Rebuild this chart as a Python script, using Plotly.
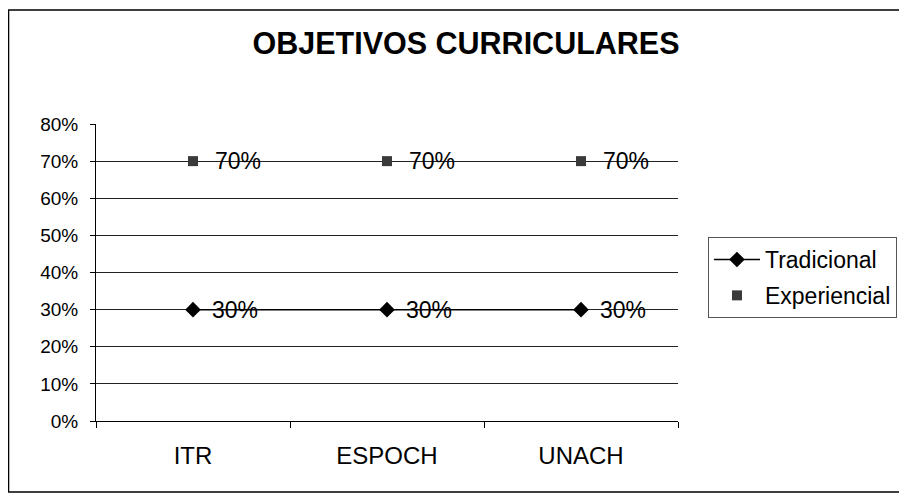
import plotly.graph_objects as go

categories = ["ITR", "ESPOCH", "UNACH"]
tradicional = [0.30, 0.30, 0.30]
experiencial = [0.70, 0.70, 0.70]
y_ticks = [0, 0.1, 0.2, 0.3, 0.4, 0.5, 0.6, 0.7, 0.8]

FONT = "Liberation Sans, Arial, sans-serif"

fig = go.Figure()
fig.add_trace(go.Scatter(
    x=categories, y=tradicional, name="Tradicional", legendgroup="t",
    mode="lines+markers",
    line=dict(color="black", width=1.5),
    marker=dict(symbol="diamond", size=12, color="black"),
))
fig.add_trace(go.Scatter(
    x=categories, y=experiencial, name="Experiencial", legendgroup="e",
    mode="markers",
    marker=dict(symbol="square", size=10, color="#3a3a3a"),
))

annotations = []
for series, shift in ((tradicional, 17), (experiencial, 20)):
    for cat, v in zip(categories, series):
        annotations.append(dict(x=cat, y=v, xref="x", yref="y", text=f"{v:.0%}",
                                showarrow=False, xanchor="left", yanchor="middle",
                                xshift=shift, font=dict(family=FONT, size=23, color="black")))

fig.update_layout(
    width=907, height=500,
    paper_bgcolor="white", plot_bgcolor="white",
    margin=dict(l=88, r=237, t=116, b=87),
    font=dict(family=FONT, size=18, color="black"),
    title=dict(text="<b>OBJETIVOS CURRICULARES</b>", x=0.505, xanchor="center",
               y=0.93, yanchor="middle", font=dict(family=FONT, size=30.5, color="black")),
    showlegend=True,
    legend=dict(x=1.0515, xanchor="left", y=0.6195, yanchor="top",
                bordercolor="#555555", borderwidth=1, bgcolor="white",
                font=dict(family=FONT, size=23, color="black"),
                tracegroupgap=3, itemwidth=46),
    annotations=annotations,
    shapes=[dict(type="rect", xref="paper", yref="paper",
                 x0=-0.1503, x1=1.388, y0=-0.239, y1=1.384,
                 line=dict(color="black", width=1.5))],
)
fig.update_xaxes(type="category", range=[-0.5, 2.5], showline=True, linecolor="black",
                 linewidth=1, ticks="outside", tickson="boundaries", ticklen=6,
                 tickcolor="black", showgrid=False, tickfont=dict(size=24),
                 ticklabelstandoff=13)
fig.update_yaxes(range=[0, 0.8], tickvals=y_ticks, tickformat=".0%", showline=True,
                 linecolor="black", linewidth=1, ticks="outside", ticklen=5,
                 tickcolor="black", showgrid=True, gridcolor="#222222", gridwidth=1,
                 zeroline=False, tickfont=dict(size=19), ticklabelstandoff=8)

fig.write_html("out.html")
